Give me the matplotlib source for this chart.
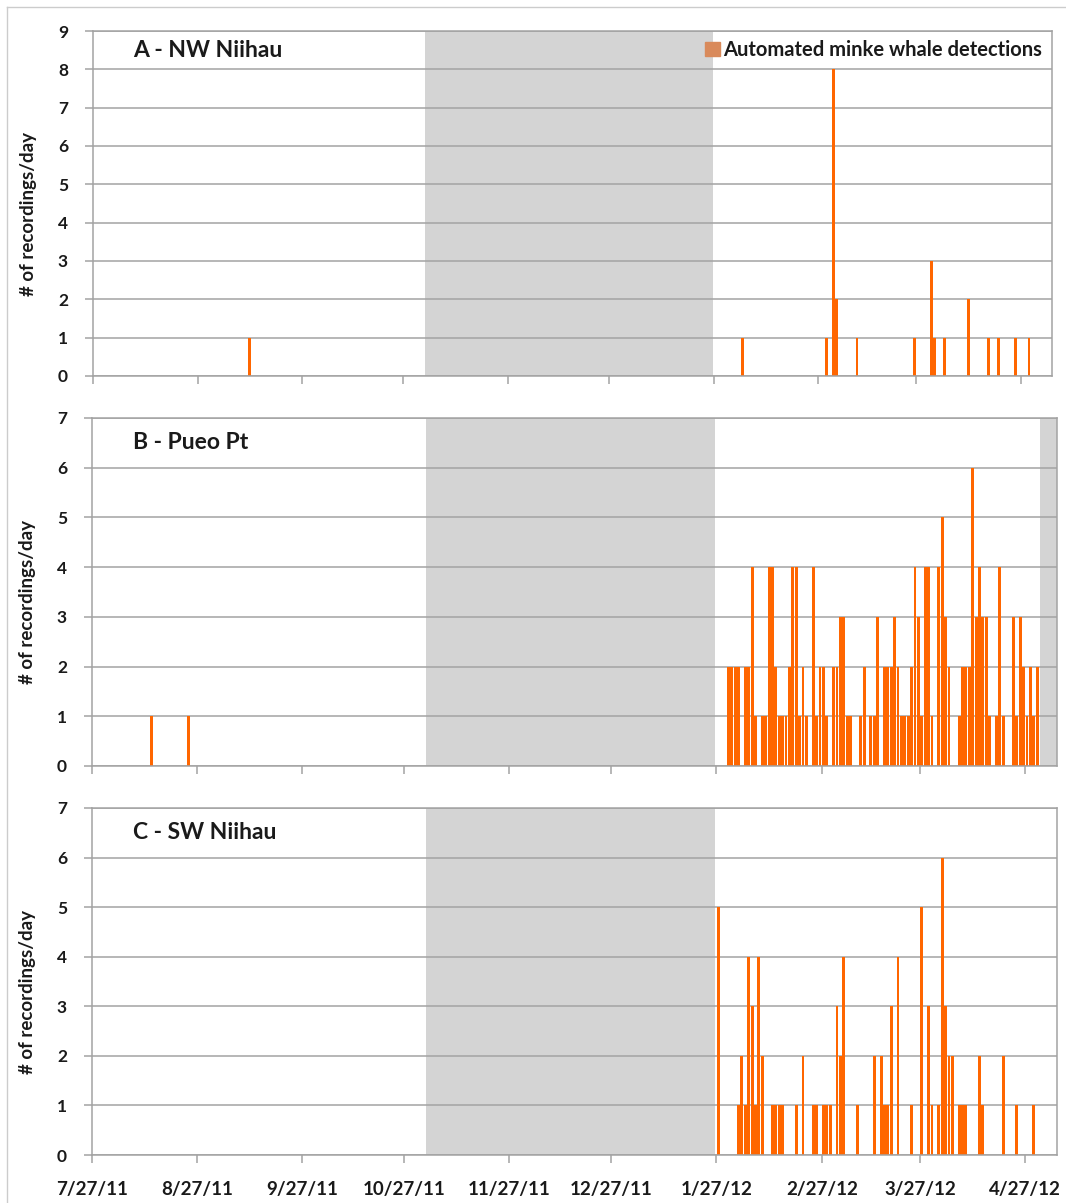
import pandas as pd
import matplotlib.pyplot as plt
import matplotlib.dates as mdates
from matplotlib.patches import Patch
from matplotlib.lines import Line2D

plt.rcParams['font.family'] = ['Lato', 'DejaVu Sans']
plt.rcParams['font.weight'] = 'bold'

# === Data ===
tick_dates = ["2011-07-27", "2011-08-27", "2011-09-27", "2011-10-27", "2011-11-27",
              "2011-12-27", "2012-01-27", "2012-02-27", "2012-03-27", "2012-04-27"]
tick_labels = ["7/27/11", "8/27/11", "9/27/11", "10/27/11", "11/27/11",
               "12/27/11", "1/27/12", "2/27/12", "3/27/12", "4/27/12"]
x_start = "2011-07-27"
x_end = "2012-05-06 08:00"

# A - NW Niihau: days with detections
a_dates = ["2011-09-11", "2012-02-04", "2012-02-29", "2012-03-02", "2012-03-03",
           "2012-03-09", "2012-03-26", "2012-03-31", "2012-04-01", "2012-04-04",
           "2012-04-11", "2012-04-17", "2012-04-20", "2012-04-25", "2012-04-29"]
a_counts = [1, 1, 1, 8, 2, 1, 1, 3, 1, 1, 2, 1, 1, 1, 1]

# B - Pueo Pt: two early detections, then daily counts from 1/27/12
b_early_dates = ["2011-08-13", "2011-08-24"]
b_early_counts = [1, 1]
b_daily = [0, 0, 0, 2, 2, 2, 2, 0, 2, 2,
           4, 1, 0, 1, 1, 4, 4, 2, 1, 1,
           1, 2, 4, 4, 1, 2, 1, 0, 4, 1,
           2, 2, 1, 0, 2, 2, 3, 3, 1, 1,
           0, 0, 1, 2, 0, 1, 1, 3, 0, 2,
           2, 2, 3, 2, 1, 1, 1, 2, 4, 3,
           1, 4, 4, 1, 0, 4, 5, 3, 2, 0,
           0, 1, 2, 2, 2, 6, 3, 4, 3, 3,
           1, 0, 1, 4, 1, 0, 0, 3, 1, 3,
           2, 1, 2, 1, 2]

# C - SW Niihau: daily counts from 1/27/12
c_daily = [5, 0, 0, 0, 0, 0, 1, 2, 1, 4,
           3, 1, 4, 2, 0, 0, 1, 1, 1, 1,
           0, 0, 0, 1, 0, 2, 0, 0, 1, 1,
           0, 1, 1, 1, 0, 3, 2, 4, 0, 0,
           0, 1, 0, 0, 0, 0, 2, 0, 2, 1,
           1, 3, 0, 4, 0, 0, 0, 1, 0, 0,
           5, 0, 3, 1, 0, 1, 6, 3, 2, 2,
           0, 1, 1, 1, 0, 0, 0, 2, 1, 0,
           0, 0, 0, 0, 2, 0, 0, 0, 1, 0,
           0, 0, 0, 1, 0]
daily_start = "2012-01-27"

# periods without recordings (gray)
gap_a = [("2011-11-02 12:00", "2012-01-26 18:00")]
gap_b = [("2011-11-02 12:00", "2012-01-26 12:00"), ("2012-05-01 10:00", "2012-05-06 08:00")]
gap_c = [("2011-11-02 12:00", "2012-01-26 12:00")]

# === Build per panel series ===
daily_b = pd.date_range(daily_start, periods=len(b_daily), freq="D")
daily_c = pd.date_range(daily_start, periods=len(c_daily), freq="D")

panels = [
    ("A - NW Niihau", pd.to_datetime(a_dates), a_counts, gap_a, 9,
     [93 / 1066, 1 - 376 / 1203, 959 / 1066, 345 / 1203]),
    ("B - Pueo Pt", pd.to_datetime(b_early_dates).append(daily_b), b_early_counts + b_daily, gap_b, 7,
     [92 / 1066, 1 - 766 / 1203, 965 / 1066, 348 / 1203]),
    ("C - SW Niihau", daily_c, c_daily, gap_c, 7,
     [92 / 1066, 1 - 1155 / 1203, 965 / 1066, 347 / 1203]),
]

bar_color = "#FF6600"
gray_fill = "#D4D4D4"
line_gray = "#A3A3A3"
text_color = "#1a1a1a"

fig = plt.figure(figsize=(10.66, 12.03), dpi=100)

ticks = mdates.date2num(pd.to_datetime(tick_dates))
for i, (title, dates, counts, gaps, ymax, rect) in enumerate(panels):
    ax = fig.add_axes(rect)
    x = mdates.date2num(dates) + 0.5
    ax.bar(x, counts, width=0.85, color=bar_color, linewidth=0, zorder=2)

    for g0, g1 in gaps:
        ax.axvspan(mdates.date2num(pd.Timestamp(g0)), mdates.date2num(pd.Timestamp(g1)),
                   color=gray_fill, linewidth=0, zorder=0.2)

    ax.set_xlim(mdates.date2num(pd.Timestamp(x_start)), mdates.date2num(pd.Timestamp(x_end)))
    ax.set_ylim(0, ymax)
    ax.set_yticks(range(ymax + 1))
    ax.set_xticks(ticks)
    if i == 2:
        ax.set_xticklabels(tick_labels)
    else:
        ax.set_xticklabels([])

    ax.yaxis.grid(True, color=line_gray, linewidth=1.1, zorder=0.5)
    ax.set_axisbelow(True)
    for s in ax.spines.values():
        s.set_color(line_gray)
        s.set_linewidth(1.1)
    ax.tick_params(axis="both", direction="out", length=6, width=1.1, color=line_gray,
                   labelcolor=text_color)
    ax.tick_params(axis="y", labelsize=12.5, pad=12)
    ax.tick_params(axis="x", labelsize=13.5, pad=13)

    ax.set_ylabel("# of recordings/day", fontsize=13.5, fontweight="bold", color=text_color)
    ax.yaxis.set_label_coords(-0.058, 0.47)

    ax.text(0.042, ymax - 0.5, title, transform=ax.get_yaxis_transform(),
            fontsize=16.5, fontweight="bold", color=text_color, va="center", ha="left")

    if i == 0:
        ax.legend(handles=[Patch(color="#D98A5B", label="Automated minke whale detections")],
                  loc="center right", bbox_to_anchor=(0.99, 0.945), frameon=False,
                  handlelength=0.7, handleheight=0.7, handletextpad=0.2,
                  borderpad=0, borderaxespad=0, prop={"size": 14.5, "weight": "bold"},
                  labelcolor=text_color)

# thin outer frame (top and left)
fig.add_artist(Line2D([7 / 1066, 1], [1 - 7 / 1203, 1 - 7 / 1203], color="#CCCCCC", linewidth=1))
fig.add_artist(Line2D([7 / 1066, 7 / 1066], [0, 1 - 7 / 1203], color="#CCCCCC", linewidth=1))

fig.savefig("out.png", dpi=100)
